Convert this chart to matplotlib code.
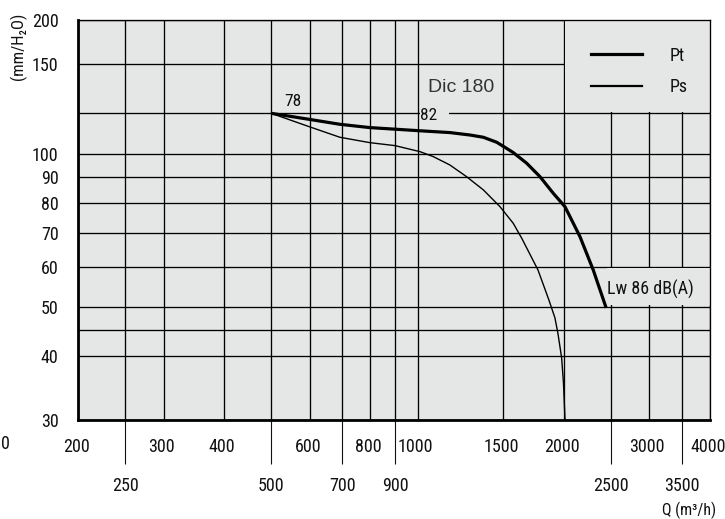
import os
import numpy as np
import matplotlib
matplotlib.use("Agg")
import matplotlib.pyplot as plt
from matplotlib import font_manager as fm
from matplotlib.ticker import FixedLocator, FixedFormatter, NullFormatter
from matplotlib.patches import Rectangle
from matplotlib.lines import Line2D
from matplotlib.transforms import ScaledTranslation

# ---------------- data ----------------
pt_q = [500, 598, 692, 798, 899, 1012, 1166, 1282, 1366, 1455, 1506, 1574, 1677, 1787, 1903,
        2011, 2060, 2160, 2300, 2445]
pt_p = [120, 116.8, 114.2, 112.5, 111.7, 110.9, 110.0, 108.8, 107.7, 105.3, 103.2, 100.5, 95.8,
        90.1, 83.6, 78.7, 75.2, 68.7, 59.1, 49.8]

ps_q = [500, 598, 692, 798, 899, 1012, 1077, 1166, 1262, 1366, 1478, 1574, 1639, 1770, 1864,
        1918, 1946, 1980, 1997, 2012]
ps_p = [120, 113.0, 107.7, 105.1, 103.7, 100.9, 98.7, 95.0, 90.1, 84.9, 78.7, 73.0, 68.2, 59.1,
        51.6, 47.6, 44.3, 39.7, 35.5, 30]

x_row1_ticks = [200, 300, 400, 600, 800, 1000, 1500, 2000, 3000, 4000]
x_row2_ticks = [250, 500, 700, 900, 2500, 3500]
y_ticks = [30, 40, 50, 60, 70, 80, 90, 100, 150, 200]
y_extra_grid = [45, 120]

series_labels = ["Pt", "Ps"]
model_label = "Dic 180"
point_labels = ["78", "82"]
sound_label = "Lw 86 dB(A)"

# ---------------- fonts ----------------
narrow = None
for f in fm.fontManager.ttflist:
    if os.path.basename(f.fname).lower().startswith("robotocondensed") and \
            "italic" not in os.path.basename(f.fname).lower():
        narrow = f
        break

if narrow is not None:
    FP = lambda size: fm.FontProperties(fname=narrow.fname, size=size)
    FS = 13.0
else:
    FP = lambda size: fm.FontProperties(family=["Liberation Sans", "DejaVu Sans"],
                                        size=size, stretch="condensed")
    FS = 11.5

BG = "#e5e6e6"
plt.rcParams["font.family"] = ["Liberation Sans", "DejaVu Sans"]

W, H = 725, 519
fig = plt.figure(figsize=(W / 100, H / 100), dpi=100)
ax = fig.add_axes([78 / W, (H - 420) / H, 632 / W, 400 / H])
ax.set_facecolor(BG)

# y scale: log, compressed above 150 (as in the reference)
B = np.log10(150.0)
R = 0.691


def fwd(y):
    ly = np.log10(np.clip(np.asarray(y, dtype=float), 1e-9, None))
    return np.where(ly <= B, ly, B + R * (ly - B))


def inv(v):
    v = np.asarray(v, dtype=float)
    return np.where(v <= B, 10 ** v, 10 ** (B + (v - B) / R))


ax.set_xscale("log")
ax.set_yscale("function", functions=(fwd, inv))
ax.set_xlim(200, 4000)
ax.set_ylim(30, 200)

# ticks
ax.xaxis.set_major_locator(FixedLocator(x_row2_ticks))
ax.xaxis.set_major_formatter(FixedFormatter([str(v) for v in x_row2_ticks]))
ax.xaxis.set_minor_locator(FixedLocator(x_row1_ticks))
ax.xaxis.set_minor_formatter(FixedFormatter([str(v) for v in x_row1_ticks]))
ax.tick_params(axis="x", which="major", length=31.7, width=0.8, pad=9, colors="#111")
ax.tick_params(axis="x", which="minor", length=0, pad=13, labelcolor="#111")

ax.yaxis.set_major_locator(FixedLocator(y_ticks))
ax.yaxis.set_major_formatter(FixedFormatter([str(v) for v in y_ticks]))
ax.yaxis.set_minor_locator(FixedLocator(y_extra_grid))
ax.yaxis.set_minor_formatter(NullFormatter())
ax.tick_params(axis="y", which="both", length=0, pad=14, labelcolor="#111")

ax.set_axisbelow(True)
ax.grid(True, which="both", color="black", linewidth=0.95)

for lab in ax.get_xticklabels(which="both") + ax.get_yticklabels(which="both"):
    lab.set_fontproperties(FP(FS))

# upper-row x labels sit slightly left of their grid lines in the reference
shift = ScaledTranslation(-2 / 100, 0, fig.dpi_scale_trans)
for t in ax.xaxis.get_minor_ticks():
    t.label1.set_transform(t.label1.get_transform() + shift)

# spines
for s in ["left", "bottom"]:
    ax.spines[s].set_linewidth(2.0)
for s in ["top", "right"]:
    ax.spines[s].set_linewidth(0.95)

# boxes that hide the grid (legend area, labels)
f = 1.008
ax.add_patch(Rectangle((2000 * f, 120 * f), 4000 - 2000 * f, 200 - 120 * f,
                       facecolor=BG, edgecolor="none", zorder=0.7))
ax.add_patch(Rectangle((2450, 50 * f), 4000 - 2450, 60 / f - 50 * f,
                       facecolor=BG, edgecolor="none", zorder=0.7))
ax.add_patch(Rectangle((1012, 116.5), 1160 - 1012, 123.5 - 116.5,
                       facecolor=BG, edgecolor="none", zorder=0.7))

# curves
ax.plot(pt_q, pt_p, color="black", linewidth=2.3, solid_capstyle="butt",
        solid_joinstyle="round", zorder=3)
ax.plot(ps_q, ps_p, color="black", linewidth=1.0, solid_joinstyle="round", zorder=3)

# annotations
ax.text(555, 126.8, point_labels[0], ha="center", va="center", fontproperties=FP(FS - 0.5),
        color="#111")
ax.text(1012, 118.8, point_labels[1], ha="left", va="center", fontproperties=FP(FS - 0.5),
        color="#111", zorder=4)
ax.text(1228, 134.6, model_label, ha="center", va="center", fontsize=14,
        family=["Liberation Sans", "DejaVu Sans"], color="#333")
ax.text(2457, 54.2, sound_label, ha="left", va="center", fontproperties=FP(FS), color="#111",
        zorder=4)

# legend
handles = [Line2D([], [], color="black", linewidth=2.3),
           Line2D([], [], color="black", linewidth=1.6)]
leg = ax.legend(handles, series_labels, loc="upper left", bbox_to_anchor=(0.8117, 0.933),
                frameon=False, prop=FP(FS), handlelength=2.85, handletextpad=1.5,
                labelspacing=0.74, borderpad=0, borderaxespad=0)
for t in leg.get_texts():
    t.set_color("#111")

# figure texts
fig.text(18 / W, 1 - 46 / H, "(mm/H\u2082O)", rotation=90, ha="center", va="center",
         fontproperties=FP(FS - 1), color="#111")
fig.text(689 / W, 1 - 510 / H, "Q (m\u00b3/h)", ha="center", va="center",
         fontproperties=FP(FS - 1.5), color="#111")
fig.text(5 / W, 1 - 444 / H, "0", ha="center", va="center", fontproperties=FP(FS), color="#111")

fig.savefig("out.png", dpi=100, facecolor="white")
